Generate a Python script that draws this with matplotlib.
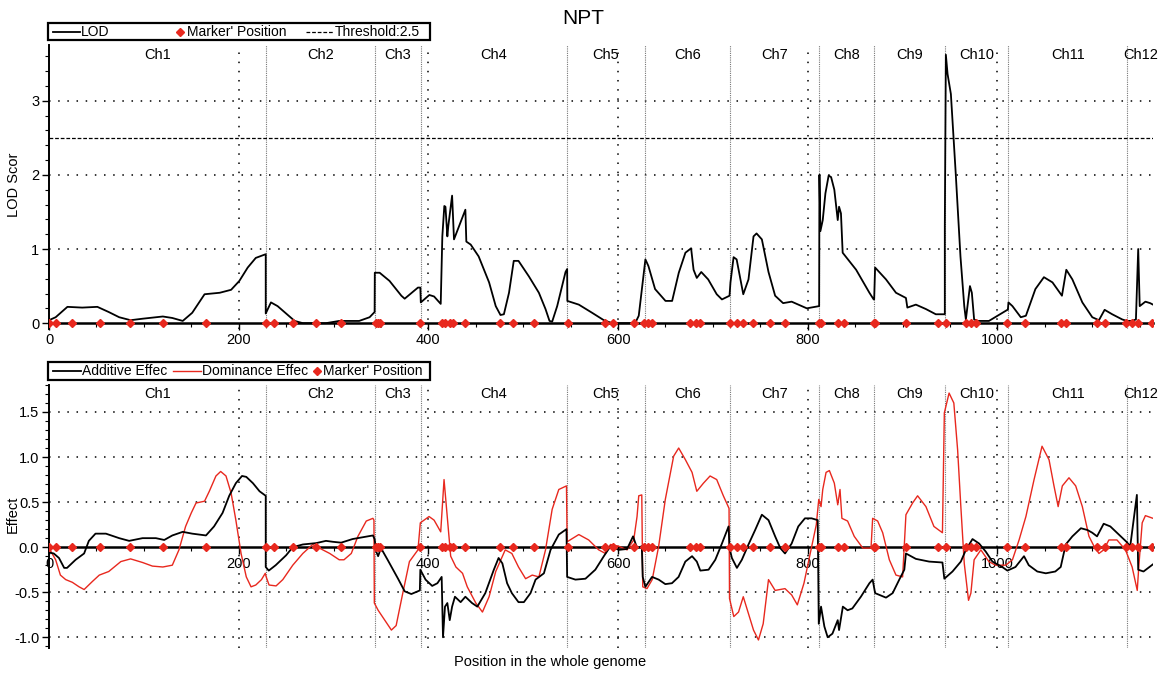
import matplotlib
matplotlib.use("Agg")
import matplotlib.pyplot as plt
import matplotlib.transforms as mtransforms
from matplotlib.patches import Rectangle
from matplotlib.ticker import MultipleLocator

plt.rcParams["font.family"] = ["Liberation Sans", "DejaVu Sans"]

# chromosome layout (cM along the whole genome)
chrom_names = ["Ch1", "Ch2", "Ch3", "Ch4", "Ch5", "Ch6", "Ch7", "Ch8", "Ch9", "Ch10", "Ch11", "Ch12"]
chrom_bounds = [0, 228.5, 343.5, 392, 546.5, 628, 718, 812, 870, 945, 1011, 1137, 1164]

marker_pos = [0.5, 7, 24, 53.5, 85, 120.5, 165.5, 229, 237.5, 257.5, 281.5, 308,
              344.5, 347, 349.5, 391.5, 414, 418, 422.5, 426, 439, 476, 489, 511,
              547, 586.5, 594.5, 616.5, 627.5, 632, 636, 676, 682, 686, 717.5, 725,
              732, 742, 760, 776, 812, 814, 831.5, 838, 869.5, 871, 903.5, 937,
              945.5, 966.5, 972, 977, 1010.5, 1029, 1066.5, 1072, 1105, 1113, 1136,
              1142, 1148, 1162.5]

# LOD profile
lod_pos = [0, 7, 19.4, 35, 51, 63, 74, 86, 98.6, 120, 130, 141, 151, 164, 180, 192, 200.7, 209.5, 218, 228.5,
           228.5, 234, 241, 250, 259, 267.6, 292, 306, 327, 338, 343.3,
           343.5, 348.6, 359, 371.5, 375, 389, 391.5,
           392, 401, 406, 413, 414.7, 416.8, 418, 420, 421, 425, 427, 439, 440, 444.6, 453, 464, 471, 476,
           479.6, 485, 490, 495, 506, 516.5, 523.5, 527.7, 530.5, 535.8, 544.6, 546.3,
           546.5, 558.6, 572.6, 585, 593.7, 618, 621.8, 626,
           628.8, 632, 639, 650, 657, 664, 671, 677, 679.6, 683, 687.7, 695, 704, 709.5, 717.5,
           718.5, 721.8, 725, 732, 737.5, 742.8, 746, 751.6, 758.6, 765.6, 774, 783, 790, 799, 807.7, 811.5,
           812, 812.3, 813.3, 815.8, 818.6, 822, 824.6, 828, 831.6, 833, 835, 836.8, 851, 865, 869.5,
           870, 871, 882.5, 893, 903.5, 905, 914, 924.6, 935, 942, 944.5,
           944.5, 945.6, 947.4, 950.9, 956, 961, 965, 966.7, 968.4, 971, 973, 975.4, 979, 991, 1000, 1010.5,
           1011, 1011.6, 1015.8, 1024.6, 1030, 1040, 1049, 1058, 1068, 1072.6, 1079, 1089.5, 1100, 1107,
           1113, 1121, 1131.6, 1136.5,
           1142, 1146, 1148.4, 1150, 1156, 1161, 1164]
lod_val = [0.04, 0.08, 0.22, 0.21, 0.22, 0.15, 0.08, 0.04, 0.06, 0.09, 0.07, 0.03, 0.14, 0.39, 0.41, 0.45, 0.57, 0.75, 0.88, 0.93,
           0.13, 0.28, 0.23, 0.13, 0.03, 0.0, 0.0, 0.03, 0.03, 0.08, 0.15,
           0.68, 0.68, 0.57, 0.37, 0.33, 0.48, 0.48,
           0.28, 0.38, 0.36, 0.26, 1.17, 1.58, 1.57, 1.17, 1.31, 1.72, 1.13, 1.53, 1.10, 1.06, 0.90, 0.55, 0.23, 0.11,
           0.12, 0.41, 0.84, 0.84, 0.63, 0.41, 0.19, 0.03, 0.02, 0.23, 0.69, 0.73,
           0.30, 0.25, 0.14, 0.04, 0.0, 0.0, 0.10, 0.55,
           0.86, 0.77, 0.46, 0.30, 0.30, 0.68, 0.95, 1.01, 0.72, 0.61, 0.69, 0.59, 0.39, 0.32, 0.37,
           0.55, 0.89, 0.86, 0.39, 0.59, 1.17, 1.21, 1.13, 0.69, 0.37, 0.27, 0.29, 0.25, 0.20, 0.22, 0.23,
           0.23, 2.0, 1.24, 1.39, 1.75, 1.99, 1.97, 1.80, 1.39, 1.57, 1.48, 0.95, 0.72, 0.41, 0.32,
           0.32, 0.75, 0.59, 0.41, 0.34, 0.21, 0.25, 0.19, 0.12, 0.12, 0.12,
           1.30, 3.62, 3.36, 3.09, 2.02, 0.90, 0.23, 0.05, 0.23, 0.50, 0.41, 0.05, 0.03, 0.03, 0.10, 0.18,
           0.18, 0.28, 0.23, 0.08, 0.10, 0.46, 0.62, 0.55, 0.37, 0.72, 0.59, 0.28, 0.08, 0.04,
           0.18, 0.12, 0.05, 0.03,
           0.03, 0.05, 1.0, 0.23, 0.29, 0.27, 0.25]
threshold = 2.5

# additive effect
add_pos = [0, 5, 10.5, 16, 19, 28, 37, 42, 49, 60, 74, 84.5, 98.6, 112.7, 121.5, 130, 141, 151, 165.5, 174,
           183, 190, 197, 203.5, 208, 215, 222, 228.5,
           228.5, 231.7, 239, 250, 257, 267.6, 281.7, 292, 299, 308, 320, 331, 341.5, 343.3,
           345, 347, 350, 357, 368, 375, 382, 391, 391.5,
           397, 404, 409.5, 414, 415.4, 417.5, 420, 422.5, 425, 428, 434, 439, 446, 451.6, 460, 469, 474, 478,
           483, 488, 495, 500.7, 507.7, 513, 521.8, 528.8, 537.5, 545.6,
           546.3, 555, 565.6, 576, 585, 592, 600.7, 609.5, 615.8, 620, 625, 626,
           628.8, 635.8, 642.8, 649.8, 656.8, 663.8, 670.9, 678, 683, 686.7, 695.4, 702.5, 709.5, 716.5, 717.5,
           720, 725.3, 730.5, 737.5, 744.5, 751.6, 758.6, 765.6, 771, 776, 783, 790, 797, 804, 810.5,
           811.6, 814, 817.5, 821, 826, 831.6, 833, 837, 842, 847, 856, 865, 868.4,
           871, 882.5, 889.5, 896.5, 901.8, 903.5, 914, 928, 942, 944,
           952.6, 961.4, 966.7, 973.7, 980.7, 987.7, 994.7, 1005, 1010.5,
           1019, 1028, 1033, 1042, 1051, 1061, 1066.7, 1072, 1079, 1088, 1095, 1100, 1105, 1112, 1119, 1128, 1136,
           1140, 1147, 1148.4, 1154, 1161.4, 1164]
add_val = [-0.06, -0.07, -0.12, -0.23, -0.23, -0.14, -0.07, 0.07, 0.15, 0.15, 0.10, 0.07, 0.10, 0.10, 0.08, 0.13,
           0.17, 0.15, 0.13, 0.23, 0.38, 0.57, 0.71, 0.79, 0.78, 0.71, 0.62, 0.57,
           -0.22, -0.26, -0.20, -0.09, 0.0, 0.03, 0.045, 0.07, 0.06, 0.05, 0.09, 0.11, 0.13, 0.09,
           -0.05, -0.10, -0.01, -0.14, -0.35, -0.49, -0.52, -0.48, -0.25,
           -0.36, -0.43, -0.40, -0.33, -1.0, -0.66, -0.62, -0.81, -0.66, -0.55, -0.61, -0.55, -0.62, -0.66, -0.51,
           -0.25, -0.12, -0.18, -0.40, -0.51, -0.61, -0.61, -0.51, -0.36, -0.29, -0.03, 0.14, 0.20,
           -0.33, -0.36, -0.35, -0.25, -0.10, 0.01, -0.03, -0.02, 0.12, -0.01, 0.01, -0.33,
           -0.44, -0.33, -0.36, -0.41, -0.40, -0.33, -0.16, -0.10, -0.16, -0.26, -0.25, -0.14, 0.04, 0.23, -0.01,
           -0.12, -0.23, -0.14, 0.03, 0.19, 0.36, 0.30, 0.12, -0.01, -0.07, 0.04, 0.23, 0.32, 0.32, 0.30,
           -0.85, -0.66, -0.88, -1.0, -0.96, -0.81, -0.92, -0.66, -0.70, -0.68, -0.55, -0.40, -0.36,
           -0.51, -0.56, -0.51, -0.36, -0.25, -0.07, -0.13, -0.16, -0.17, -0.35,
           -0.27, -0.16, -0.03, 0.09, 0.04, -0.05, -0.16, -0.22, -0.26,
           -0.22, -0.10, -0.20, -0.27, -0.29, -0.27, -0.22, 0.03, 0.12, 0.21, 0.19, 0.16, 0.12, 0.26, 0.23, 0.14, 0.06,
           0.01, 0.58, -0.25, -0.27, -0.21, -0.19]

# dominance effect
dom_pos = [0, 7, 12, 17.6, 24.6, 31.7, 37, 45.8, 53, 63, 75.7, 86, 98.6, 109, 120, 130, 137, 144, 150, 155,
           164, 169, 176, 181, 186.6, 192, 197, 202.5, 208, 213, 218, 224, 228,
           229, 232, 239.4, 246.5, 257, 267.6, 278, 285, 296, 306, 311, 318.7, 325.7, 334.5, 341.5, 342.6,
           343, 347, 354, 361, 366, 373, 380, 389, 391.5,
           400.7, 406, 413, 416.5, 419, 423.5, 429, 436, 441, 450, 457, 464, 471, 481, 488, 495, 502.5, 509.5,
           516.5, 523.5, 530.5, 537.5, 545.6, 546.3,
           558.6, 569, 579.6, 586.7, 592, 600.7, 609.5, 616.5, 620, 621.8, 625, 626,
           630.5, 636, 642.8, 649.8, 658.6, 663.9, 671, 678, 683, 690, 697, 704, 711, 717, 717.5,
           722, 727, 732, 737.5, 742.8, 748, 753, 758.6, 765.6, 776, 783, 789, 796, 804, 809,
           811.6, 814, 815.8, 819.3, 822.8, 828, 831.6, 834, 836, 842, 849, 858, 866.7,
           868.4, 873.7, 879, 886, 893, 900, 903.5, 910.5, 915.8, 924.6, 933, 942,
           944, 949, 954, 958, 961.4, 965, 969.5, 972, 975.4, 982.5, 991, 998, 1008.8,
           1015.8, 1022.8, 1030, 1038.6, 1047, 1054.4, 1059.6, 1064, 1068.4, 1075.4, 1082.5, 1089.5, 1096.5,
           1101.8, 1107, 1112, 1117.5, 1126, 1135,
           1142, 1147.4, 1149, 1152.6, 1156, 1161.4, 1164]
dom_val = [-0.01, -0.14, -0.31, -0.36, -0.39, -0.44, -0.47, -0.38, -0.31, -0.27, -0.16, -0.13, -0.17, -0.21, -0.22,
           -0.20, -0.03, 0.23, 0.38, 0.49, 0.51, 0.62, 0.79, 0.84, 0.79, 0.60, 0.30, -0.07, -0.33, -0.44, -0.42,
           -0.36, -0.29,
           -0.33, -0.42, -0.43, -0.36, -0.20, -0.07, 0.03, -0.01, -0.07, -0.14, -0.14, -0.07, 0.12, 0.29, 0.32, 0.30,
           -0.62, -0.70, -0.81, -0.92, -0.87, -0.51, -0.16, -0.03, 0.27,
           0.34, 0.30, 0.17, 0.75, 0.45, -0.10, -0.22, -0.29, -0.44, -0.62, -0.72, -0.55, -0.27, -0.03, -0.07,
           -0.22, -0.35, -0.31, -0.33, -0.03, 0.42, 0.64, 0.68, 0.06,
           0.14, 0.08, -0.03, -0.07, 0.03, 0.01, -0.03, 0.08, 0.34, 0.57, 0.58, -0.44,
           -0.46, -0.36, 0.01, 0.53, 1.01, 1.10, 0.97, 0.83, 0.62, 0.71, 0.79, 0.75, 0.57, 0.43, -0.57,
           -0.77, -0.72, -0.55, -0.74, -0.92, -1.03, -0.85, -0.36, -0.48, -0.46, -0.53, -0.64, -0.40, 0.0, 0.25,
           0.53, 0.45, 0.64, 0.83, 0.85, 0.71, 0.47, 0.64, 0.32, 0.29, 0.12, -0.01, -0.01,
           0.32, 0.29, 0.16, -0.14, -0.31, -0.33, 0.36, 0.49, 0.57, 0.45, 0.23, 0.16,
           1.49, 1.71, 1.60, 1.08, 0.45, -0.18, -0.59, -0.51, -0.14, -0.03, -0.16, -0.20, -0.20,
           -0.14, 0.08, 0.34, 0.75, 1.12, 0.97, 0.68, 0.45, 0.68, 0.77, 0.68, 0.45, 0.12,
           0.01, -0.07, -0.03, 0.08, 0.08, -0.03,
           -0.22, -0.48, -0.22, 0.27, 0.35, 0.33, 0.32]

RED = "#e8281e"
XMAX = chrom_bounds[-1]
W, H = 1167, 673


def style_axis(ax, ymin, ymax, yticks, yfmt, yminor):
    ax.set_xlim(0, XMAX)
    ax.set_ylim(ymin, ymax)
    for side in ("top", "right"):
        ax.spines[side].set_visible(False)
    ax.spines["bottom"].set_position(("data", 0))
    ax.spines["bottom"].set_linewidth(1.8)
    ax.spines["left"].set_linewidth(1.4)
    ax.set_xticks([0, 200, 400, 600, 800, 1000])
    ax.xaxis.set_minor_locator(MultipleLocator(50))
    ax.set_yticks(yticks)
    ax.set_yticklabels([yfmt.format(v) for v in yticks])
    ax.yaxis.set_minor_locator(MultipleLocator(yminor))
    ax.tick_params(axis="both", which="major", direction="out", length=5, width=1, labelsize=10.5, pad=2)
    ax.tick_params(axis="both", which="minor", direction="out", length=3, width=0.8)
    # dotted grid
    for v in yticks:
        if v != 0:
            ax.axhline(v, color="black", lw=1.1, ls=(0, (1, 5)), zorder=1)
    for v in [200, 400, 600, 800, 1000]:
        ax.axvline(v, color="black", lw=1.1, ls=(0, (1, 5)), zorder=1)
    # chromosome boundaries and names
    for b in chrom_bounds[1:-1]:
        ax.axvline(b, color="#777777", lw=0.8, ls=(0, (1, 1)), zorder=1)
    trans = mtransforms.blended_transform_factory(ax.transData, ax.transAxes)
    for name, a, b in zip(chrom_names, chrom_bounds[:-1], chrom_bounds[1:]):
        ax.text((a + b) / 2, 0.966, name, transform=trans, ha="center", va="center", fontsize=10.5)


def draw_legend(ov, box, entries):
    """entries: (kind, x0, x1, style, label) in pixel coords of the overlay."""
    x0, y0, x1, y1 = box
    yc = (y0 + y1) / 2
    ov.add_patch(Rectangle((x0, y0), x1 - x0, y1 - y0, fill=False, ec="black", lw=1.6))
    for kind, a, b, style, label in entries:
        if kind == "line":
            ov.plot([a, b], [yc, yc], **style)
            ov.text(b + 1, yc, label, ha="left", va="center", fontsize=10)
        else:
            ov.plot([a], [yc], ls="none", **style)
            ov.text(b, yc, label, ha="left", va="center", fontsize=10)


fig = plt.figure(figsize=(W / 100, H / 100), dpi=100)
ax1 = fig.add_axes([0.042, 0.511, 0.946, 0.422])
ax2 = fig.add_axes([0.042, 0.037, 0.946, 0.391])

# top: LOD profile
style_axis(ax1, -0.08, 3.75, [0, 1, 2, 3], "{:d}", 0.2)
ax1.axhline(threshold, color="black", lw=0.9, ls=(0, (3, 1.5)), zorder=2)
ax1.plot(lod_pos, lod_val, color="black", lw=1.3, zorder=3)
ax1.plot(marker_pos, [0] * len(marker_pos), ls="none", marker="D", ms=4.5, color=RED, zorder=4)

# bottom: effects
style_axis(ax2, -1.12, 1.8, [-1.0, -0.5, 0.0, 0.5, 1.0, 1.5], "{:.1f}", 0.1)
ax2.plot(dom_pos, dom_val, color=RED, lw=1.0, zorder=3)
ax2.plot(add_pos, add_val, color="black", lw=1.3, zorder=3)
ax2.plot(marker_pos, [0] * len(marker_pos), ls="none", marker="D", ms=4.5, color=RED, zorder=4)

# overlay in pixel coordinates for legends and free texts
ov = fig.add_axes([0, 0, 1, 1], zorder=10)
ov.set_xlim(0, W)
ov.set_ylim(H, 0)
ov.axis("off")

draw_legend(ov, (48, 23, 430, 40), [
    ("line", 53, 80, dict(color="black", lw=1.3), "LOD"),
    ("marker", 180, 187, dict(marker="D", ms=4, color=RED), "Marker' Position"),
    ("line", 306, 334, dict(color="black", lw=0.9, ls=(0, (3, 1.5))), "Threshold:2.5"),
])
draw_legend(ov, (48, 362, 430, 380), [
    ("line", 53, 81, dict(color="black", lw=1.3), "Additive Effec"),
    ("line", 173, 201, dict(color=RED, lw=1.0), "Dominance Effec"),
    ("marker", 317, 323, dict(marker="D", ms=4, color=RED), "Marker' Position"),
])

ov.text(583, 18, "NPT", ha="center", va="center", fontsize=15)
ov.text(14, 185, "LOD Scor", rotation=90, ha="center", va="center", fontsize=10.5)
ov.text(13, 514, "Effect", rotation=90, ha="center", va="center", fontsize=10.5)
ov.text(550, 662, "Position in the whole genome", ha="center", va="center", fontsize=10.5)

fig.savefig("out.png", dpi=100)
